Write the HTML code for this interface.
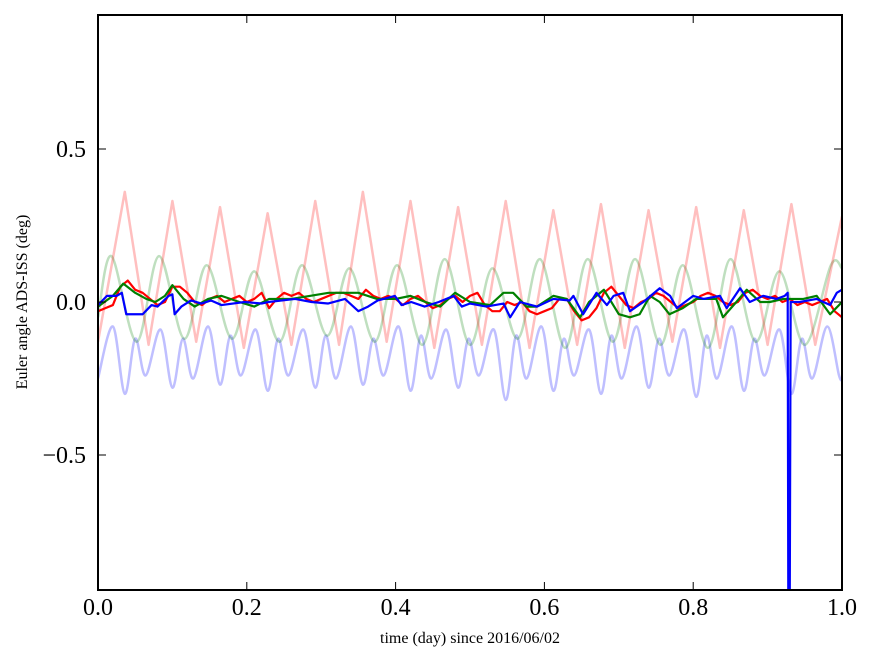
<!DOCTYPE html>
<html><head><meta charset="utf-8"><style>
body{margin:0;background:#fff;}
svg{display:block;font-family:"Liberation Serif",serif;}
</style></head><body>
<svg id="chart" width="875" height="662" viewBox="0 0 875 662" xmlns="http://www.w3.org/2000/svg">
<defs><clipPath id="clip"><rect x="98" y="15" width="744" height="575"/></clipPath></defs>
<rect x="0" y="0" width="875" height="662" fill="#fff"/>
<g id="faint" clip-path="url(#clip)"></g>
<g id="solid" clip-path="url(#clip)"></g>
<rect x="98" y="15" width="744" height="575" fill="none" stroke="#000" stroke-width="2"/>
<g id="ticks"></g>
<text x="470" y="643" font-size="16" text-anchor="middle">time (day) since 2016/06/02</text>
<text x="0" y="0" font-size="16" text-anchor="middle" transform="translate(27,302) rotate(-90)">Euler angle ADS-ISS (deg)</text>
</svg>
<script>
const xTicks=[0,0.2,0.4,0.6,0.8,1.0];
const xTickLabels=["0.0","0.2","0.4","0.6","0.8","1.0"];
const yTicks=[0.5,0,-0.5];
const yTickLabels=["0.5","0.0","\u22120.5"];

const pinkT=[0,0.036,0.068,0.100,0.132,0.164,0.196,0.228,0.260,0.292,0.324,0.356,0.388,0.420,0.452,0.484,0.516,0.548,0.580,0.612,0.644,0.676,0.708,0.740,0.772,0.804,0.836,0.868,0.900,0.932,0.964,1.0];
const pinkV=[-0.13,0.36,-0.14,0.33,-0.13,0.31,-0.15,0.29,-0.14,0.33,-0.14,0.36,-0.13,0.33,-0.15,0.31,-0.14,0.33,-0.15,0.30,-0.14,0.32,-0.15,0.30,-0.13,0.31,-0.15,0.30,-0.14,0.32,-0.14,0.28];
const gfT=[0,0.018,0.052,0.082,0.116,0.146,0.180,0.210,0.244,0.274,0.308,0.338,0.372,0.402,0.436,0.466,0.500,0.530,0.564,0.594,0.628,0.658,0.692,0.722,0.756,0.786,0.820,0.850,0.884,0.916,0.950,0.985,1.0];
const gfV=[-0.05,0.15,-0.13,0.15,-0.12,0.12,-0.12,0.10,-0.13,0.12,-0.11,0.11,-0.13,0.12,-0.14,0.14,-0.14,0.11,-0.12,0.14,-0.15,0.14,-0.13,0.14,-0.14,0.12,-0.15,0.14,-0.13,0.10,-0.14,0.12,0.11];
const bfT=[0,0.020,0.036,0.050,0.064,0.084,0.100,0.114,0.128,0.148,0.164,0.178,0.192,0.212,0.228,0.242,0.256,0.276,0.292,0.306,0.320,0.340,0.356,0.370,0.384,0.404,0.420,0.434,0.448,0.468,0.484,0.498,0.512,0.532,0.548,0.562,0.576,0.596,0.612,0.626,0.640,0.660,0.676,0.690,0.704,0.724,0.740,0.754,0.768,0.788,0.804,0.818,0.832,0.852,0.868,0.882,0.896,0.916,0.932,0.946,0.960,0.980,0.996,1.0];
const bfV=[-0.25,-0.08,-0.30,-0.12,-0.24,-0.09,-0.28,-0.12,-0.25,-0.08,-0.27,-0.11,-0.24,-0.09,-0.29,-0.12,-0.24,-0.09,-0.28,-0.11,-0.25,-0.08,-0.27,-0.12,-0.24,-0.08,-0.29,-0.11,-0.25,-0.09,-0.28,-0.12,-0.24,-0.09,-0.32,-0.11,-0.25,-0.08,-0.29,-0.12,-0.24,-0.09,-0.30,-0.11,-0.25,-0.08,-0.28,-0.12,-0.24,-0.09,-0.31,-0.11,-0.25,-0.08,-0.29,-0.12,-0.24,-0.09,-0.30,-0.12,-0.25,-0.08,-0.24,-0.25];

const redT=[0,0.01,0.02,0.03,0.04,0.05,0.06,0.07,0.08,0.09,0.10,0.11,0.12,0.13,0.14,0.15,0.16,0.17,0.18,0.19,0.20,0.21,0.22,0.23,0.24,0.25,0.26,0.27,0.28,0.29,0.30,0.31,0.32,0.33,0.34,0.35,0.36,0.37,0.38,0.39,0.40,0.41,0.42,0.43,0.44,0.45,0.46,0.47,0.48,0.49,0.50,0.51,0.52,0.53,0.54,0.55,0.56,0.57,0.58,0.59,0.60,0.61,0.62,0.63,0.64,0.65,0.66,0.67,0.68,0.69,0.70,0.71,0.72,0.73,0.74,0.75,0.76,0.77,0.78,0.79,0.80,0.81,0.82,0.83,0.84,0.85,0.86,0.87,0.88,0.89,0.90,0.91,0.92,0.93,0.94,0.95,0.96,0.97,0.98,0.99,1.0];
const redV=[-0.03,-0.02,-0.01,0.05,0.07,0.04,0.03,0.01,-0.01,0.00,0.05,0.05,0.03,0.00,-0.01,0.01,0.02,0.00,0.01,0.02,0.00,0.01,0.03,-0.02,0.01,0.03,0.02,0.03,0.01,0.00,0.01,0.02,0.03,0.03,0.02,0.01,0.04,0.02,0.01,0.02,0.01,-0.01,0.01,0.02,0.00,-0.02,-0.01,0.01,0.02,0.00,0.02,0.03,-0.01,-0.03,-0.03,0.00,-0.01,0.00,-0.03,-0.04,-0.03,-0.02,0.01,0.01,-0.03,-0.06,-0.05,-0.02,0.03,0.05,0.02,-0.01,-0.02,0.00,0.01,0.03,0.02,0.00,-0.02,-0.01,0.00,0.02,0.03,0.02,0.00,-0.01,0.00,0.03,0.04,0.02,0.01,0.02,0.00,0.01,-0.01,0.00,-0.01,0.00,0.01,-0.03,-0.05];
const greenT=[0,0.02,0.034,0.05,0.065,0.077,0.09,0.10,0.115,0.13,0.148,0.166,0.19,0.21,0.23,0.26,0.31,0.35,0.375,0.40,0.42,0.44,0.46,0.48,0.50,0.527,0.545,0.558,0.576,0.59,0.612,0.63,0.648,0.66,0.68,0.70,0.715,0.728,0.742,0.755,0.768,0.786,0.804,0.831,0.84,0.858,0.872,0.89,0.903,0.921,0.948,0.966,0.984,1.0];
const greenV=[-0.015,0.02,0.06,0.03,0.01,0.00,0.02,0.055,0.01,-0.015,0.01,0.02,0.00,-0.015,0.01,0.01,0.03,0.03,0.01,0.01,0.02,0.00,-0.015,0.03,0.00,-0.01,0.03,0.03,-0.015,-0.015,0.02,0.01,-0.05,0.00,0.04,-0.04,-0.05,-0.04,0.02,0.00,-0.04,-0.02,0.01,0.01,-0.05,0.00,0.04,0.00,0.00,0.01,0.01,0.02,-0.04,0.00];
const blueT=[0,0.012,0.025,0.032,0.038,0.05,0.06,0.072,0.08,0.095,0.10,0.103,0.112,0.125,0.139,0.152,0.166,0.197,0.22,0.229,0.265,0.287,0.309,0.332,0.350,0.363,0.376,0.399,0.408,0.421,0.439,0.458,0.478,0.489,0.500,0.522,0.545,0.554,0.567,0.590,0.612,0.634,0.639,0.652,0.670,0.684,0.693,0.706,0.715,0.733,0.755,0.769,0.778,0.800,0.814,0.836,0.845,0.863,0.876,0.894,0.912,0.923,0.927,0.928,0.9295,0.931,0.943,0.966,0.984,0.993,1.0];
const blueV=[-0.01,0.02,0.02,0.03,-0.04,-0.04,-0.04,-0.01,-0.015,0.02,0.025,-0.04,-0.015,0.005,-0.005,0.005,-0.01,0.00,-0.005,0.00,0.01,0.00,-0.005,0.01,-0.03,-0.015,0.005,0.02,-0.01,0.00,-0.015,0.00,0.02,-0.015,-0.005,-0.015,-0.005,-0.05,0.00,-0.015,0.01,0.005,0.02,-0.04,0.03,-0.01,0.02,0.03,-0.03,0.00,0.045,0.02,-0.02,0.02,0.01,0.02,-0.02,0.045,0.00,0.02,0.01,0.02,0.03,-1.2,-1.2,0.00,0.00,0.01,-0.01,0.03,0.04];

const X0=98,X1=842,Y0=302,YS=306;
const xs=t=>X0+(X1-X0)*t;
const ys=v=>Y0-YS*v;
const NS="http://www.w3.org/2000/svg";
function linePath(T,V){let d="";for(let i=0;i<T.length;i++)d+=(i?"L":"M")+xs(T[i]).toFixed(2)+","+ys(V[i]).toFixed(2);return d;}
function smoothPath(T,V){
  const P=T.map((t,i)=>[xs(t),ys(V[i])]);
  let d="M"+P[0][0]+","+P[0][1];
  for(let i=0;i<P.length-1;i++){
    const p0=P[Math.max(0,i-1)],p1=P[i],p2=P[i+1],p3=P[Math.min(P.length-1,i+2)];
    const c1=[p1[0]+(p2[0]-p0[0])/6,p1[1]+(p2[1]-p0[1])/6];
    const c2=[p2[0]-(p3[0]-p1[0])/6,p2[1]-(p3[1]-p1[1])/6];
    d+="C"+c1[0].toFixed(2)+","+c1[1].toFixed(2)+" "+c2[0].toFixed(2)+","+c2[1].toFixed(2)+" "+p2[0].toFixed(2)+","+p2[1].toFixed(2);
  }
  return d;
}
function addPath(g,d,color,w,op,name){
  const p=document.createElementNS(NS,"path");
  p.setAttribute("d",d);p.setAttribute("fill","none");p.setAttribute("stroke",color);
  p.setAttribute("stroke-width",w);p.setAttribute("stroke-opacity",op);p.setAttribute("stroke-linejoin","round");
  
  
  g.appendChild(p);
}
const faint=document.getElementById("faint"),solid=document.getElementById("solid");
addPath(faint,smoothPath(bfT,bfV),"#0000ff",2.5,0.25,"faint-blue-line");
addPath(faint,smoothPath(gfT,gfV),"#008000",2.5,0.25,"faint-green-line");
addPath(faint,linePath(pinkT,pinkV),"#ff0000",2.5,0.25,"faint-red-line");
addPath(solid,linePath(redT,redV),"#ff0000",2.2,1,"red-line");
addPath(solid,linePath(greenT,greenV),"#008000",2.2,1,"green-line");
addPath(solid,linePath(blueT,blueV),"#0000ff",2.2,1,"blue-line");

const tg=document.getElementById("ticks");
function tl(x1,y1,x2,y2){const l=document.createElementNS(NS,"line");l.setAttribute("x1",x1);l.setAttribute("y1",y1);l.setAttribute("x2",x2);l.setAttribute("y2",y2);l.setAttribute("stroke","#000");l.setAttribute("stroke-width","1");


tg.appendChild(l);}
function tx(x,y,s,anchor,name){const t=document.createElementNS(NS,"text");t.setAttribute("x",x);t.setAttribute("y",y);t.setAttribute("font-size","24");t.setAttribute("text-anchor",anchor);t.textContent=s;


tg.appendChild(t);}
xTicks.forEach((v,i)=>{const x=xs(v);tl(x,590,x,582);tl(x,15,x,23);tx(x,615,xTickLabels[i],"middle","x-tick-label");});
yTicks.forEach((v,i)=>{const y=ys(v);tl(98,y,106,y);tl(842,y,834,y);tx(86,y+8,yTickLabels[i],"end","y-tick-label");});
</script>
</body></html>
